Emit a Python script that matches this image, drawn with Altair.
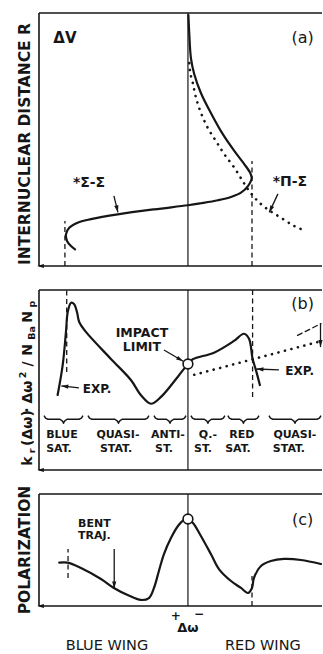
import math
import altair as alt
import pandas as pd

FONT = "DejaVu Sans"
INK = "#161616"

# Shared abscissa: detuning Δω (line centre at 0, blue wing negative), arbitrary units
X_DOMAIN = [-100, 90]
Y_DOMAIN = [0, 100]          # each panel's ordinate, arbitrary units
PANEL_W = 283
H_A, H_B, H_C = 253, 180, 112
GAP = 24

# ---------------- (a) difference potential ΔV versus internuclear distance R
sig_x = [0.3, 0.9, 2.0, 4.2, 8.7, 15.4, 23.3, 31.1, 37.8, 41.8, 42.8, 40.3, 35.6,
         28.9, 20.1, 8.7, 0.0, -22.6, -47.2, -65.1, -74.1, -79.7, -81.9, -81.2,
         -78.5, -75.8]
sig_y = [99.2, 91.7, 82.2, 75.9, 68.4, 60.5, 52.2, 45.5, 40.3, 36.8, 34.8, 31.6,
         29.0, 27.3, 26.0, 24.8, 24.0, 22.4, 20.4, 18.5, 17.1, 15.1, 12.5, 9.9,
         7.9, 6.6]
pis_x = [0.9, 1.5, 3.2, 5.4, 8.7, 13.2, 18.8, 24.4, 31.1, 36.7, 41.2, 46.8, 53.5,
         62.4, 71.4, 79.2]
pis_y = [80.2, 76.4, 72.5, 66.5, 60.6, 54.7, 49.4, 44.2, 38.9, 33.6, 29.6, 25.7,
         22.4, 19.1, 15.8, 13.8]
a_limits_x = [-82.6, 43.0]
a_limits_top = [17.8, 41.5]

# ---------------- (b) scaled redistribution rate k_r(Δω)·Δω²/N_Ba N_p
rate_x = [-87.5, -84.1, -81.9, -80.7, -78.5, -76.5, -74.5, -73.0, -68.5, -51.7,
          -38.3, -31.5, -24.8, -18.1, -6.9, 0.0, 3.2, 17.5, 30.9, 37.6, 41.0,
          43.4, 45.6, 48.3]
rate_y = [41.7, 58.3, 76.7, 87.8, 92.9, 92.2, 87.8, 82.2, 76.7, 61.7, 50.0, 41.5,
          36.8, 40.6, 51.7, 58.9, 61.5, 65.2, 71.7, 75.7, 72.9, 61.8, 55.6, 47.2]
quasi_x = [4.2, 87.1]
quasi_y = [52.9, 71.1]
far_x = [73.6, 89.3]
far_y = [74.8, 81.3]
b_limits_x = [-81.4, 43.4]
b_limits_bottom = [54.4, 40.6]
impact_value = 58.9
brace_spans = [(-96.6, -70.5), (-67.1, -26.2), (-22.8, -1.3), (2.0, 24.8),
               (26.8, 47.7), (54.4, 89.3)]
region_top = ["BLUE", "QUASI-", "ANTI-", "Q.-", "RED", "QUASI-"]
region_bot = ["SAT.", "STAT.", "ST.", "ST.", "SAT.", "STAT."]
region_top_x = [-84.6, -47.0, -13.4, 13.4, 36.2, 71.8]
region_bot_x = [-86.6, -48.3, -16.1, 10.1, 33.6, 67.8]

# ---------------- (c) polarization
pol_x = [-86.4, -80.8, -71.8, -58.4, -49.7, -40.5, -31.6, -26.2, -22.8, -19.5,
         -16.1, -11.4, -6.7, -2.7, 0.0, 3.4, 8.7, 15.4, 20.8, 28.9, 35.6, 40.3,
         43.0, 44.3, 49.0, 55.7, 64.5, 75.9, 89.3]
pol_y = [38.7, 38.7, 33.9, 24.1, 16.1, 9.8, 5.4, 7.1, 16.1, 31.3, 46.4, 60.7,
         71.4, 76.8, 77.7, 74.1, 62.5, 46.4, 33.0, 22.3, 16.1, 11.6, 16.1, 25.0,
         35.7, 40.2, 42.0, 41.1, 37.5]
c_limits_x = [-80.5, 43.0]
c_limits_y1 = [25.0, 0.0]
c_limits_y2 = [50.9, 26.8]
peak_value = 77.7

KX = PANEL_W / (X_DOMAIN[1] - X_DOMAIN[0])
ARROW_PATH = "M0,0 L0.55,1.8 L-0.55,1.8 Z"


def X(field):
    return alt.X(f"{field}:Q", scale=alt.Scale(domain=X_DOMAIN, nice=False, zero=False), axis=None)


def Y(field):
    return alt.Y(f"{field}:Q", scale=alt.Scale(domain=Y_DOMAIN, nice=False, zero=False), axis=None)


def curve(xs, ys, width=2.2, dash=None, interp="catmull-rom"):
    df = pd.DataFrame({"x": xs, "y": ys, "i": range(len(xs))})
    kw = dict(color=INK, strokeWidth=width, interpolate=interp,
              strokeCap="round", strokeJoin="round")
    if dash:
        kw["strokeDash"] = dash
    return alt.Chart(df).mark_line(**kw).encode(x=X("x"), y=Y("y"), order="i:Q")


def segments(x1, y1, x2, y2, width=1.3, dash=None):
    df = pd.DataFrame({"x1": x1, "y1": y1, "x2": x2, "y2": y2})
    kw = dict(color=INK, strokeWidth=width)
    if dash:
        kw["strokeDash"] = dash
    return alt.Chart(df).mark_rule(**kw).encode(
        x=X("x1"), y=Y("y1"), x2="x2:Q", y2="y2:Q")


def arrows(arrs, h, shaft=True, size=60):
    ky = h / (Y_DOMAIN[1] - Y_DOMAIN[0])
    rows = []
    for (x1, y1, x2, y2) in arrs:
        ang = math.degrees(math.atan2((x2 - x1) * KX, (y2 - y1) * ky)) % 360
        rows.append({"x1": x1, "y1": y1, "x2": x2, "y2": y2, "a": ang})
    df = pd.DataFrame(rows)
    heads = alt.Chart(df).mark_point(shape=ARROW_PATH, filled=True, color=INK,
                                     size=size, opacity=1).encode(
        x=X("x2"), y=Y("y2"), angle=alt.Angle("a:Q", scale=None))
    if not shaft:
        return heads
    line = alt.Chart(df).mark_rule(color=INK, strokeWidth=1.3).encode(
        x=X("x1"), y=Y("y1"), x2="x2:Q", y2="y2:Q")
    return line + heads


def texts(t, xs, ys, size, weight="normal", align="center", baseline="middle", angle=0):
    df = pd.DataFrame({"t": t, "x": xs, "y": ys})
    return alt.Chart(df).mark_text(font=FONT, fontSize=size, fontWeight=weight,
                                   align=align, baseline=baseline, angle=angle,
                                   color=INK).encode(x=X("x"), y=Y("y"), text="t:N")


def frame(h):
    x0, x1 = X_DOMAIN
    fr = segments([x0, x0, x0], [0, 100, 0], [x0, x1, x1], [100, 100, 0], width=1.6)
    centre = segments([0], [0], [0], [100], width=1.2)
    head = arrows([(x0 + 5, 0, x0 - 1.2, 0)], h, shaft=False, size=55)
    return fr + centre + head


def marker(yv):
    df = pd.DataFrame({"x": [0.0], "y": [yv]})
    return alt.Chart(df).mark_point(shape="circle", filled=True, fill="white",
                                    stroke=INK, strokeWidth=1.6, size=95,
                                    opacity=1).encode(x=X("x"), y=Y("y"))


def braces(spans, yb, rise=2.0, dip=2.2):
    rows = []
    for k, (x0, x1) in enumerate(spans):
        xm = (x0 + x1) / 2
        pts = [(x0, yb + rise), (x0 + 1.0, yb + rise * 0.3), (x0 + 2.6, yb),
               (xm - 2.4, yb), (xm - 0.7, yb - dip * 0.45), (xm, yb - dip),
               (xm + 0.7, yb - dip * 0.45), (xm + 2.4, yb), (x1 - 2.6, yb),
               (x1 - 1.0, yb + rise * 0.3), (x1, yb + rise)]
        for i, (x, y) in enumerate(pts):
            rows.append({"b": k, "i": i, "x": x, "y": y})
    df = pd.DataFrame(rows)
    return alt.Chart(df).mark_line(color=INK, strokeWidth=1.5, interpolate="linear",
                                   strokeJoin="round").encode(
        x=X("x"), y=Y("y"), detail="b:N", order="i:Q")


DOTS = [0.1, 6.6]
DASH = [5, 3.5]

# ---------------- panel (a)
panel_a = alt.layer(
    frame(H_A),
    segments(a_limits_x, [0, 0], a_limits_x, a_limits_top, dash=DASH),
    curve(pis_x, pis_y, width=2.6, dash=DOTS),
    curve(sig_x, sig_y),
    arrows([(-49.7, 27.7, -47.0, 21.2), (60.4, 28.5, 54.6, 21.2)], H_A),
    texts(["ΔV"], [-82.6], [90.1], 15, "bold"),
    texts(["(a)"], [77.0], [90.1], 16),
    texts(["*Σ-Σ", "*Π-Σ"], [-66.4, 68.5], [32.8, 33.2], 14, "bold"),
    texts(["INTERNUCLEAR DISTANCE R"], [-106.1], [48.2], 15.5, "bold",
          baseline="alphabetic", angle=270),
).properties(width=PANEL_W, height=H_A)

# ---------------- panel (b)
title_b = pd.DataFrame({
    "t": ["k", "r", "(Δω)", "·", "Δω", "2", "/", "N", "Ba", "N", "p"],
    "x": [-104.7, -102.7, -104.7, -104.7, -104.7, -108.8, -104.7, -104.7, -102.7, -104.7, -102.7],
    "y": [5.0, 10.6, 23.3, 33.3, 43.3, 52.8, 58.9, 66.7, 76.1, 85.0, 92.2],
    "s": [14, 9.5, 14, 14, 14, 9.5, 14, 14, 9.5, 14, 9.5],
})
title_b_layer = alt.Chart(title_b).mark_text(
    font=FONT, fontWeight="bold", align="center", baseline="alphabetic",
    angle=270, color=INK).encode(
    x=X("x"), y=Y("y"), text="t:N", size=alt.Size("s:Q", scale=None))

panel_b = alt.layer(
    frame(H_B),
    segments(b_limits_x, b_limits_bottom, b_limits_x, [100, 100], dash=DASH),
    curve(quasi_x, quasi_y, width=2.6, dash=DOTS, interp="linear"),
    curve(far_x, far_y, width=1.3, dash=DASH, interp="linear"),
    curve(rate_x, rate_y),
    arrows([(-16.1, 66.7, -3.2, 60.4), (-73.2, 45.6, -85.0, 46.7),
            (61.1, 55.6, 46.0, 56.1), (89.0, 81.3, 89.0, 68.3)], H_B),
    marker(impact_value),
    braces(brace_spans, 28.2),
    texts(region_top, region_top_x, [19.2] * 6, 11, "bold"),
    texts(region_bot, region_bot_x, [11.9] * 6, 11, "bold"),
    texts(["IMPACT", "LIMIT"], [-30.9, -30.9], [76.1, 68.3], 12.5, "bold"),
    texts(["EXP.", "EXP."], [-61.0, 75.0], [45.0, 55.0], 12, "bold"),
    texts(["(b)"], [77.0], [92.2], 16),
    title_b_layer,
).properties(width=PANEL_W, height=H_B)

# ---------------- panel (c)
panel_c = alt.layer(
    frame(H_C),
    segments(c_limits_x, c_limits_y1, c_limits_x, c_limits_y2, dash=DASH),
    curve(pol_x, pol_y),
    arrows([(-49.5, 50.9, -49.5, 15.6)], H_C),
    marker(peak_value),
    texts(["BENT", "TRAJ."], [-73.8, -73.8], [73.2, 62.5], 11, "bold", align="left"),
    texts(["(c)"], [77.0], [76.8], 16),
    texts(["+", "−"], [-8.1, 7.4], [-8.9, -7.1], 12, "bold"),
    texts(["Δω"], [0.0], [-19.6], 13, "bold"),
    texts(["BLUE WING", "RED WING"], [-54.4, 50.3], [-35.4, -35.4], 14.5),
    texts(["POLARIZATION"], [-106.1], [50.0], 15.5, "bold",
          baseline="alphabetic", angle=270),
).properties(width=PANEL_W, height=H_C)

chart = alt.vconcat(panel_a, panel_b, panel_c, spacing=GAP, bounds="flush").properties(
    padding={"left": 17, "top": 12, "right": 0, "bottom": 0},
    background="white",
).configure_view(stroke=None)

chart.save("out.html", embed_options={"renderer": "svg", "actions": False})
